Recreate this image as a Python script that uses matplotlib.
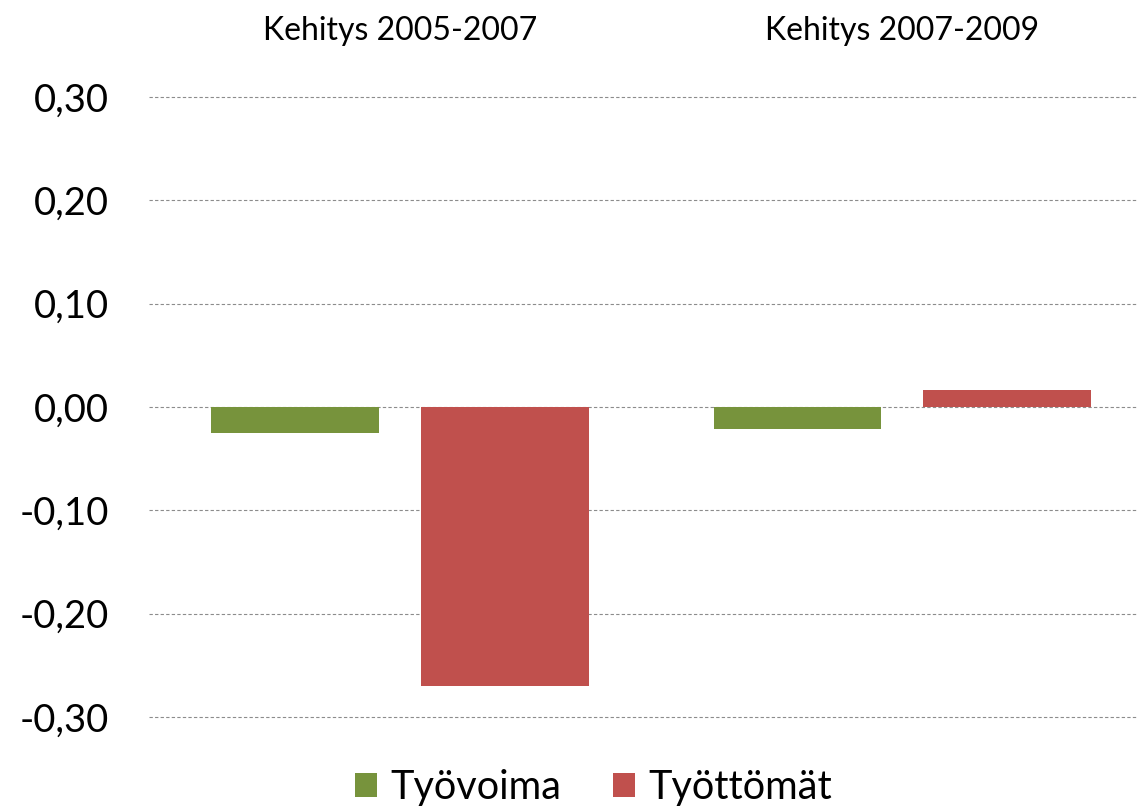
import matplotlib.pyplot as plt
import numpy as np

plt.rcParams['font.family'] = ['Lato', 'DejaVu Sans']

# --- Data ---
categories = ['Kehitys 2005-2007', 'Kehitys 2007-2009']
tyovoima = [-0.025, -0.021]
tyottomat = [-0.270, 0.016]
series_names = ['Työvoima', 'Työttömät']

GREEN = '#77933C'
RED = '#C0504D'

fig = plt.figure(figsize=(11.37, 8.07), dpi=100)
ax = fig.add_axes([0.131, 0.1115, 0.869, 0.7683])

x = np.arange(len(categories))
width = 0.333
off = 0.209
ax.bar(x - off, tyovoima, width, color=GREEN, label=series_names[0], zorder=3)
ax.bar(x + off, tyottomat, width, color=RED, label=series_names[1], zorder=3)

ax.set_xlim(-0.5, 1.468)
ax.set_ylim(-0.30, 0.30)
yt = np.arange(-0.30, 0.301, 0.10)
ax.set_yticks(yt)
ax.set_yticklabels([f'{v:.2f}'.replace('.', ',').replace('-0,00', '0,00') for v in yt],
                   fontsize=27.5)
ax.tick_params(axis='y', length=0, pad=29)

ax.xaxis.tick_top()
ax.set_xticks(x)
ax.set_xticklabels(categories, fontsize=23)
ax.tick_params(axis='x', length=0, pad=37)

ax.grid(axis='y', color='#8c8c8c', linestyle=(0, (3, 2)), linewidth=0.8, zorder=0)
for gl in ax.get_ygridlines():
    gl.set_clip_on(False)
for s in ax.spines.values():
    s.set_visible(False)

fig.legend(loc='lower center', bbox_to_anchor=(0.522, -0.043), ncol=2, frameon=False,
           fontsize=28.5, handlelength=0.55, handleheight=0.55, handletextpad=0.35,
           columnspacing=1.3)

fig.savefig('out.png', dpi=100)
